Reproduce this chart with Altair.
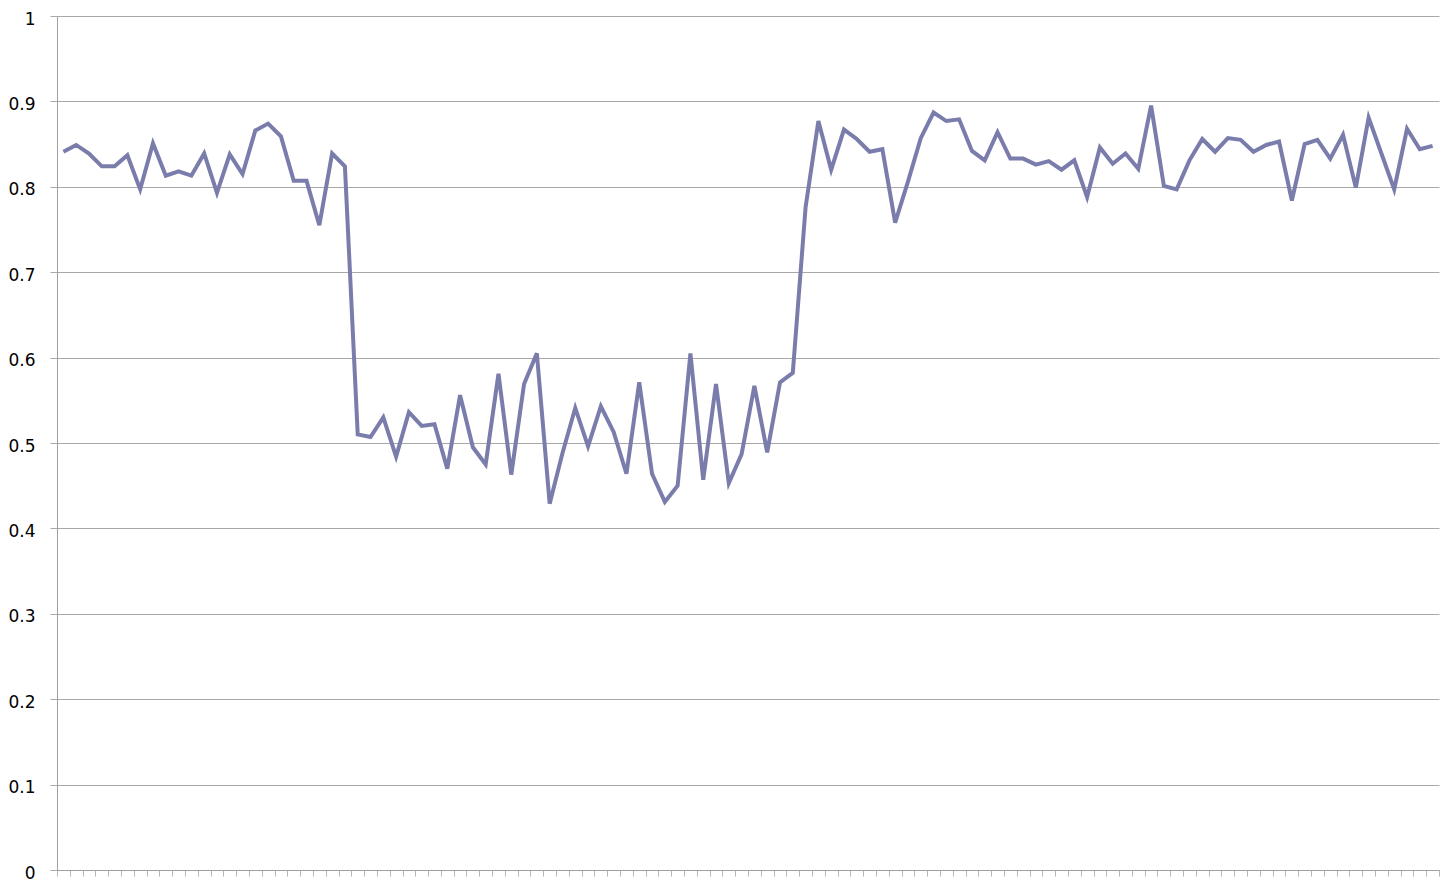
import altair as alt
import pandas as pd

values = [
    0.841, 0.849, 0.839, 0.824, 0.824, 0.837, 0.797, 0.851, 0.813, 0.818,
    0.813, 0.839, 0.793, 0.838, 0.815, 0.866, 0.874, 0.859, 0.807, 0.807,
    0.755, 0.839, 0.824, 0.510, 0.507, 0.530, 0.484, 0.536, 0.520, 0.522,
    0.470, 0.556, 0.495, 0.475, 0.581, 0.463, 0.569, 0.605, 0.429, 0.488,
    0.541, 0.496, 0.543, 0.513, 0.464, 0.571, 0.464, 0.431, 0.450, 0.605,
    0.457, 0.569, 0.453, 0.487, 0.567, 0.489, 0.571, 0.582, 0.776, 0.877,
    0.820, 0.867, 0.856, 0.841, 0.844, 0.758, 0.806, 0.857, 0.887, 0.877,
    0.879, 0.842, 0.831, 0.864, 0.833, 0.833, 0.826, 0.830, 0.820, 0.831,
    0.788, 0.846, 0.827, 0.839, 0.821, 0.895, 0.801, 0.797, 0.831, 0.856,
    0.841, 0.857, 0.855, 0.841, 0.849, 0.853, 0.784, 0.850, 0.855, 0.833,
    0.861, 0.799, 0.881, 0.839, 0.797, 0.868, 0.844, 0.848,
]
n = len(values)
positions = [i + 0.5 for i in range(n)]
tick_positions = list(range(n + 1))
y_ticks = [round(0.1 * k, 1) for k in range(11)]

df = pd.DataFrame({"pos": positions, "value": values})

chart = alt.Chart(df).mark_line(
    color="#7a7dab", strokeWidth=4, strokeJoin="miter", strokeMiterLimit=4
).encode(
    x=alt.X(
        "pos:Q",
        scale=alt.Scale(domain=[0, n], nice=False, zero=False),
        axis=alt.Axis(
            values=tick_positions, labels=False, title=None, grid=False,
            tickSize=6, tickColor="#b5b5b5", domainColor="#a0a0a0",
            domainWidth=1, tickWidth=1,
        ),
    ),
    y=alt.Y(
        "value:Q",
        scale=alt.Scale(domain=[0, 1], nice=False),
        axis=alt.Axis(
            values=y_ticks, format=".1~f", title=None, grid=True,
            gridColor="#a8a8a8", gridWidth=1, tickSize=7, tickColor="#a8a8a8",
            domainColor="#a0a0a0", labelFont="DejaVu Sans", labelFontSize=17,
            labelColor="#000000", labelPadding=15, labelOffset=3,
        ),
    ),
).properties(
    width=1382, height=854,
    autosize=alt.AutoSizeParams(type="none"),
    padding={"left": 49, "top": 8, "right": 5, "bottom": 18},
).configure_view(stroke=None)

chart.save("out.html", embed_options={"renderer": "svg", "actions": False})
